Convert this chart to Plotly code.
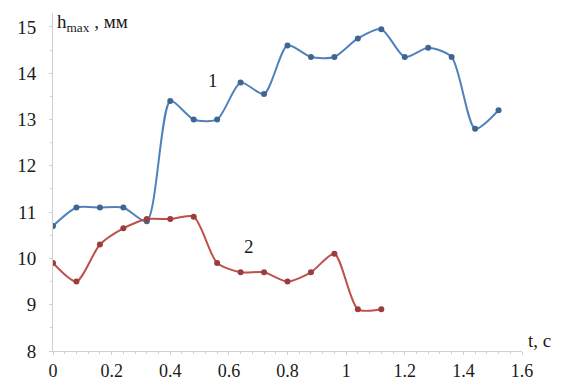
import plotly.graph_objects as go

# time, s (step 0.08 s)
t1 = [0.00, 0.08, 0.16, 0.24, 0.32, 0.40, 0.48, 0.56, 0.64, 0.72,
      0.80, 0.88, 0.96, 1.04, 1.12, 1.20, 1.28, 1.36, 1.44, 1.52]
h1 = [10.7, 11.1, 11.1, 11.1, 10.8, 13.4, 13.0, 13.0, 13.8, 13.55,
      14.6, 14.35, 14.35, 14.75, 14.95, 14.35, 14.55, 14.35, 12.8, 13.2]

t2 = [0.00, 0.08, 0.16, 0.24, 0.32, 0.40, 0.48, 0.56, 0.64, 0.72,
      0.80, 0.88, 0.96, 1.04, 1.12]
h2 = [9.9, 9.5, 10.3, 10.65, 10.85, 10.85, 10.9, 9.9, 9.7, 9.7,
      9.5, 9.7, 10.1, 8.9, 8.9]

x_ticks = [0, 0.2, 0.4, 0.6, 0.8, 1.0, 1.2, 1.4, 1.6]
x_labels = ["0", "0.2", "0.4", "0.6", "0.8", "1", "1.2", "1.4", "1.6"]
y_ticks = [8, 9, 10, 11, 12, 13, 14, 15]

FONT = "Liberation Serif"
AXIS = "#D0D0D0"
XTICKFONT = dict(family=FONT, size=18, color="#1a1a1a")
YTICKFONT = dict(family=FONT, size=19, color="#1a1a1a")

fig = go.Figure()
fig.add_trace(go.Scatter(
    x=t1, y=h1, mode="lines+markers",
    line=dict(color="#4F81BD", width=2, shape="spline", smoothing=0.7),
    marker=dict(color="#3F6591", size=6),
    showlegend=False,
))
fig.add_trace(go.Scatter(
    x=t2, y=h2, mode="lines+markers",
    line=dict(color="#C0504D", width=2, shape="spline", smoothing=0.7),
    marker=dict(color="#9A3D3B", size=6),
    showlegend=False,
))

fig.update_layout(
    width=563, height=382,
    margin=dict(l=53, r=41, t=13, b=31),
    paper_bgcolor="white", plot_bgcolor="white",
    font=dict(family=FONT, size=19, color="#1a1a1a"),
    xaxis=dict(
        range=[0, 1.6], tickvals=x_ticks, ticktext=x_labels,
        tickfont=XTICKFONT, automargin=False,
        showgrid=False, zeroline=False, showline=True,
        linecolor=AXIS, linewidth=1, ticks="outside", ticklen=3,
        tickcolor=AXIS, ticklabelstandoff=0,
        minor=dict(dtick=0.04, ticks="outside", ticklen=2, tickcolor=AXIS),
    ),
    yaxis=dict(
        range=[8, 15.3], tickvals=y_ticks, tickfont=YTICKFONT,
        automargin=False,
        showgrid=False, zeroline=False, showline=True,
        linecolor=AXIS, linewidth=1, ticks="outside", ticklen=3,
        tickcolor=AXIS, ticklabelstandoff=9,
        minor=dict(dtick=0.5, ticks="outside", ticklen=2, tickcolor=AXIS),
    ),
)

fig.add_annotation(
    x=0, y=15.3, xref="x", yref="y", xanchor="left", yanchor="top",
    text="h<sub>max</sub> , мм", showarrow=False, xshift=2, yshift=4,
    font=dict(family=FONT, size=19),
)
fig.add_annotation(
    x=1.6, y=8, xref="x", yref="y", xanchor="left", yanchor="bottom",
    text="t, с", showarrow=False, xshift=4, yshift=-2,
    font=dict(family=FONT, size=19),
)
fig.add_annotation(x=0.547, y=13.85, text="1", showarrow=False,
                   font=dict(family=FONT, size=19))
fig.add_annotation(x=0.67, y=10.25, text="2", showarrow=False,
                   font=dict(family=FONT, size=19))

fig.write_html("out.html")
